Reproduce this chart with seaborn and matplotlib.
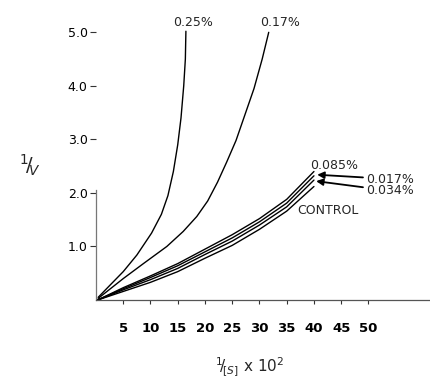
import numpy as np
import pandas as pd
import matplotlib
matplotlib.use("Agg")
import matplotlib.pyplot as plt
import seaborn as sns

# values
x_025 = [0.4, 2.6, 5.0, 7.5, 10.2, 12.0, 13.2, 14.2, 15.0, 15.6, 16.1, 16.4, 16.5]
y_025 = [0.05, 0.28, 0.53, 0.84, 1.25, 1.6, 1.95, 2.4, 2.9, 3.4, 4.0, 4.5, 5.02]

x_017 = [0.4, 5.0, 8.7, 13.0, 16.0, 18.5, 20.5, 22.3, 24.0, 25.7, 27.3, 29.0, 30.5, 31.7]
y_017 = [0.03, 0.40, 0.68, 1.0, 1.28, 1.56, 1.85, 2.2, 2.58, 2.98, 3.45, 3.95, 4.5, 5.0]

x_low = [0.3, 5, 10, 15, 20, 25, 30, 35, 40]
y_0085 = [0.0, 0.23, 0.45, 0.68, 0.95, 1.22, 1.52, 1.88, 2.40]
y_0017 = [0.0, 0.21, 0.42, 0.64, 0.90, 1.16, 1.46, 1.81, 2.32]
y_0034 = [0.0, 0.19, 0.38, 0.59, 0.85, 1.10, 1.40, 1.74, 2.24]
y_control = [0.0, 0.16, 0.33, 0.53, 0.78, 1.02, 1.32, 1.66, 2.12]

x_ticks = [5, 10, 15, 20, 25, 30, 35, 40, 45, 50]
y_ticks = [1.0, 2.0, 3.0, 4.0, 5.0]
y_ticklabels = ["1.0", "2.0", "3.0", "4.0", "5.0"]

sns.set_style("ticks")
plt.rcParams["font.family"] = ["DejaVu Sans"]

fig = plt.figure(figsize=(4.31, 3.78), dpi=100)
ax = fig.add_axes([96 / 431, 78 / 378, 334 / 431, 280 / 378])

for xs, ys in [(x_025, y_025), (x_017, y_017)]:
    sns.lineplot(x=xs, y=ys, sort=False, estimator=None, color="black", lw=1.0, ax=ax)

for ys in [y_0085, y_0017, y_0034, y_control]:
    sns.lineplot(x=x_low, y=ys, sort=False, estimator=None, color="black", lw=1.0, ax=ax)

ax.set_xlim(0, 61.3)
ax.set_ylim(0, 5.23)

ax.set_xticks(x_ticks)
ax.set_xticklabels([str(t) for t in x_ticks], fontsize=9.5, fontweight="bold")
ax.set_yticks(y_ticks)
ax.set_yticklabels(y_ticklabels, fontsize=9)
ax.tick_params(axis="x", direction="out", length=3, width=0.8, pad=13, colors="#333333")
ax.tick_params(axis="y", direction="out", length=4, width=0.8, pad=2, colors="#333333")
for lbl in ax.get_xticklabels() + ax.get_yticklabels():
    lbl.set_color("black")

ax.spines["top"].set_visible(False)
ax.spines["right"].set_visible(False)
ax.spines["left"].set_bounds(0, 2.05)
ax.spines["left"].set_color("#777777")
ax.spines["bottom"].set_color("#555555")
ax.spines["left"].set_linewidth(0.9)
ax.spines["bottom"].set_linewidth(0.9)

# curve labels
ax.text(17.8, 5.18, "0.25%", ha="center", va="center", fontsize=9)
ax.text(33.8, 5.18, "0.17%", ha="center", va="center", fontsize=9)
ax.text(43.7, 2.52, "0.085%", ha="center", va="center", fontsize=9)
ax.text(42.6, 1.68, "CONTROL", ha="center", va="center", fontsize=9)

arrow = dict(arrowstyle="-|>", color="black", lw=1.3, mutation_scale=10, shrinkA=0, shrinkB=0)
ax.annotate("0.017%", xy=(40.6, 2.34), xytext=(49.6, 2.26), ha="left", va="center",
            fontsize=9, arrowprops=arrow)
ax.annotate("0.034%", xy=(40.4, 2.22), xytext=(49.6, 2.04), ha="left", va="center",
            fontsize=9, arrowprops=arrow)

# axis titles
fig.text(30 / 431, 1 - 165 / 378, r"$^{1}\!/\!_{V}$", ha="center", va="center", fontsize=14)
fig.text(250 / 431, 1 - 367 / 378, r"$^{1}\!/\!_{[S]}$ x 10$^{2}$", ha="center", va="center",
         fontsize=11)

fig.savefig("out.png", dpi=100)
